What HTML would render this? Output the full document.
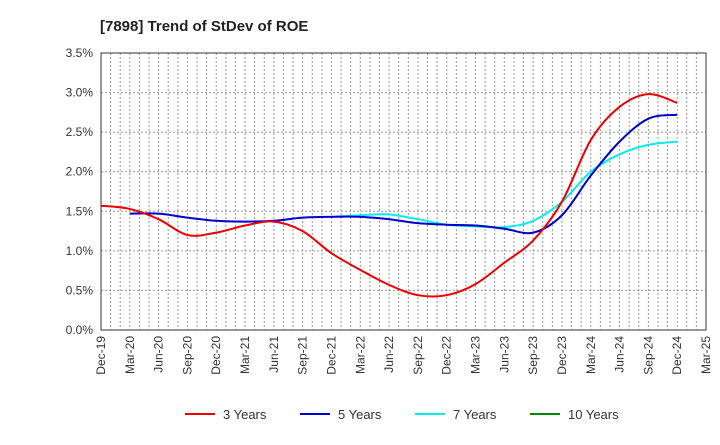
<!DOCTYPE html>
<html><head><meta charset="utf-8"><style>
body{margin:0;background:#fff;font-family:"Liberation Sans",sans-serif}
svg text{font-family:"Liberation Sans",sans-serif}
</style></head><body>
<svg id="c" width="720" height="440"></svg>
<script>
const xLabels=["Dec-19","Mar-20","Jun-20","Sep-20","Dec-20","Mar-21","Jun-21","Sep-21","Dec-21","Mar-22","Jun-22","Sep-22","Dec-22","Mar-23","Jun-23","Sep-23","Dec-23","Mar-24","Jun-24","Sep-24","Dec-24","Mar-25"];
const yTicks=[0,0.5,1,1.5,2,2.5,3,3.5];
const s3=[1.57,1.53,1.40,1.20,1.23,1.32,1.37,1.25,0.97,0.76,0.57,0.44,0.44,0.58,0.85,1.13,1.62,2.40,2.82,2.98,2.87];
const s5=[null,1.47,1.47,1.42,1.38,1.37,1.38,1.42,1.43,1.43,1.40,1.35,1.33,1.32,1.28,1.23,1.45,1.95,2.38,2.67,2.72];
const s7=[null,null,null,null,null,null,null,null,1.43,1.45,1.46,1.40,1.33,1.31,1.30,1.38,1.62,2.00,2.22,2.34,2.38];
const s10=[];
const series=[{n:"3 Years",c:"#e00",d:s3},{n:"5 Years",c:"#00c",d:s5},{n:"7 Years",c:"#0ee",d:s7},{n:"10 Years",c:"#080",d:s10}];
const L=101,R=706,T=53,B=330,NS="http://www.w3.org/2000/svg";
const X=i=>L+(R-L)*i/21, Y=v=>B-(B-T)*v/3.5;
const svg=document.getElementById('c');
function mk(t,a,p){const e=document.createElementNS(NS,t);for(const k in a)e.setAttribute(k,a[k]);(p||svg).appendChild(e);return e;}
let t=mk('text',{x:100,y:31,'font-size':15,'font-weight':'bold',fill:'#222'});t.textContent="[7898]  Trend of StDev of ROE";

for(let m=1;m<63;m++){const x=L+(R-L)*m/63;const g=mk('line',{x1:x,x2:x,y1:T,y2:B,stroke:'#999','stroke-dasharray':'2,2','stroke-width':1});
}
yTicks.forEach(v=>{const y=Y(v);if(v>0&&v<3.5){const g=mk('line',{x1:L,x2:R,y1:y,y2:y,stroke:'#999','stroke-dasharray':'2,2'});}
const tx=mk('text',{x:L-8,y:y+4,'text-anchor':'end','font-size':12,fill:'#333'});tx.textContent=v.toFixed(1)+"%";
});
const fr=mk('rect',{x:L,y:T,width:R-L,height:B-T,fill:'none',stroke:'#333'});

xLabels.forEach((l,i)=>{const x=X(i);const tx=mk('text',{transform:`translate(${x+4},${B+6}) rotate(-90)`,'text-anchor':'end','font-size':12,fill:'#333'});tx.textContent=l;
});
function path(pts){let d=`M${pts[0][0]},${pts[0][1]}`;for(let i=0;i<pts.length-1;i++){const p0=pts[i-1]||pts[i],p1=pts[i],p2=pts[i+1],p3=pts[i+2]||p2;
d+=` C${p1[0]+(p2[0]-p0[0])/6},${p1[1]+(p2[1]-p0[1])/6} ${p2[0]-(p3[0]-p1[0])/6},${p2[1]-(p3[1]-p1[1])/6} ${p2[0]},${p2[1]}`;}return d;}
[2,1,0].forEach(k=>{const s=series[k];const pts=[];s.d.forEach((v,i)=>{if(v!=null)pts.push([X(i),Y(v)]);});
const p=mk('path',{d:path(pts),fill:'none',stroke:s.c,'stroke-width':2});});
const lx=[185,300,415,530];
series.forEach((s,k)=>{const g=mk('g',{});
mk('line',{x1:lx[k],x2:lx[k]+30,y1:414,y2:414,stroke:s.c,'stroke-width':2},g);
const tx=mk('text',{x:lx[k]+38,y:419,'font-size':13,fill:'#333'},g);tx.textContent=s.n;});
</script></body></html>
